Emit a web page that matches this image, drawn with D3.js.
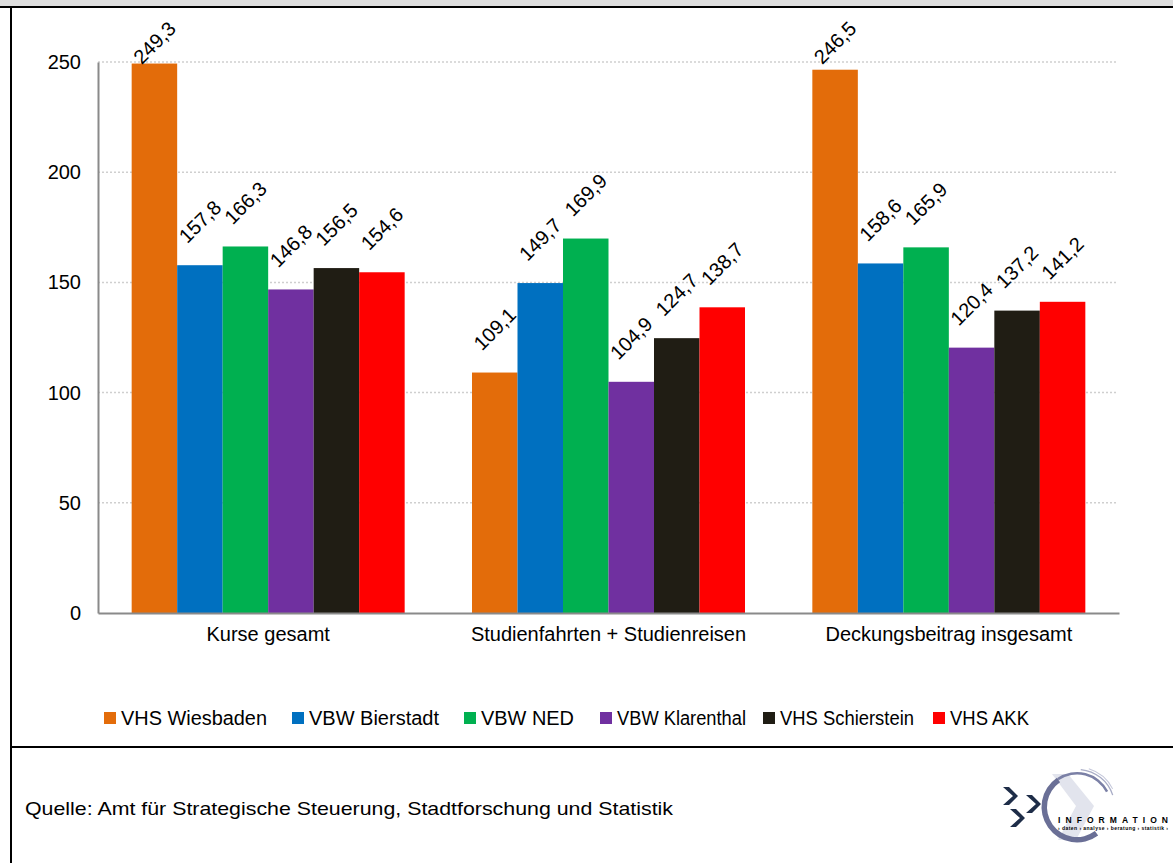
<!DOCTYPE html>
<html>
<head>
<meta charset="utf-8">
<script src="https://cdn.jsdelivr.net/npm/d3@7"></script>
<style>
  body { margin: 0; background: #fff; }
  text { font-family: "Liberation Sans", Arial, sans-serif; fill: #000; }
</style>
</head>
<body>
<div id="chart"></div>
<script>
const categories = ['Kurse gesamt', 'Studienfahrten + Studienreisen', 'Deckungsbeitrag insgesamt'];
const seriesNames = ['VHS Wiesbaden', 'VBW Bierstadt', 'VBW NED', 'VBW Klarenthal', 'VHS Schierstein', 'VHS AKK'];
const seriesColors = ['#E36C0A', '#0070C0', '#00B050', '#7030A0', '#201D14', '#FF0000'];
const wiesbaden = [249.3, 109.1, 246.5];
const bierstadt = [157.8, 149.7, 158.6];
const ned = [166.3, 169.9, 165.9];
const klarenthal = [146.8, 104.9, 120.4];
const schierstein = [156.5, 124.7, 137.2];
const akk = [154.6, 138.7, 141.2];
const yTicks = [0, 50, 100, 150, 200, 250];
const source = 'Quelle:  Amt für Strategische Steuerung, Stadtforschung und Statistik';

const values = [wiesbaden, bierstadt, ned, klarenthal, schierstein, akk];

const width = 1173, height = 863;
const plot = { left: 98, right: 1119, top: 62, bottom: 613 };

const svg = d3.select('#chart').append('svg')
  .attr('width', width)
  .attr('height', height);

// frame: grey band on top, black rules
svg.append('rect').attr('x', 0).attr('y', 0).attr('width', width).attr('height', 6).attr('fill', '#dedede');
svg.append('line').attr('x1', 0).attr('x2', width).attr('y1', 7).attr('y2', 7).attr('stroke', '#000').attr('stroke-width', 2);
svg.append('line').attr('x1', 11).attr('x2', 11).attr('y1', 7).attr('y2', height).attr('stroke', '#000').attr('stroke-width', 2);
svg.append('line').attr('x1', 11).attr('x2', width).attr('y1', 747).attr('y2', 747).attr('stroke', '#000').attr('stroke-width', 2);

const x = d3.scaleBand()
  .domain(categories)
  .range([plot.left, plot.right]);

const xSub = d3.scaleBand()
  .domain(seriesNames)
  .range([0, x.bandwidth()])
  .paddingOuter(0.74);

const y = d3.scaleLinear()
  .domain([0, 250])
  .range([plot.bottom, plot.top]);

// grid lines
svg.append('g')
  .selectAll('line')
  .data(yTicks.filter(d => d > 0))
  .join('line')
  .attr('x1', plot.left)
  .attr('x2', plot.right - 2)
  .attr('y1', d => y(d))
  .attr('y2', d => y(d))
  .attr('stroke', '#cfcfcf')
  .attr('stroke-width', 1.5)
  .attr('stroke-dasharray', '2,2');

// y axis
const yAxis = svg.append('g')
  .attr('transform', 'translate(' + plot.left + ',0)')
  .call(d3.axisLeft(y).tickValues(yTicks).tickSize(0).tickPadding(17));
yAxis.select('.domain').attr('stroke', '#8a8a8a').attr('stroke-width', 2);
yAxis.selectAll('text').style('font-size', '20px').attr('fill', '#000');

// bars
const groups = svg.append('g')
  .selectAll('g')
  .data(seriesNames)
  .join('g')
  .attr('fill', (d, i) => seriesColors[i]);

groups.selectAll('rect')
  .data((s, i) => categories.map((c, j) => ({ s: s, c: c, v: values[i][j] })))
  .join('rect')
  .attr('x', d => x(d.c) + xSub(d.s))
  .attr('width', xSub.bandwidth())
  .attr('y', d => y(d.v))
  .attr('height', d => y(0) - y(d.v));

// x axis
const xAxis = svg.append('g')
  .attr('transform', 'translate(0,' + plot.bottom + ')')
  .call(d3.axisBottom(x).tickSize(0).tickPadding(14));
xAxis.select('.domain').attr('stroke', '#8a8a8a').attr('stroke-width', 2);
xAxis.selectAll('text').style('font-size', '20px').attr('fill', '#000');

// value labels, rotated -45deg, kept inside the chart area
const fmt = v => d3.format('.1f')(v).replace('.', ',');
const labels = svg.append('g');
seriesNames.forEach((s, i) => {
  categories.forEach((c, j) => {
    const v = values[i][j];
    const t = labels.append('text')
      .attr('text-anchor', 'middle')
      .attr('dominant-baseline', 'central')
      .style('font-size', '20px')
      .text(fmt(v));
    const len = t.node().getComputedTextLength();
    const half = (len + 14) * 0.3536;
    const cx = x(c) + xSub(s) + xSub.bandwidth() / 2;
    let cy = y(v) - 21 - half;
    cy = Math.max(cy, 20 + half);
    t.attr('transform', 'translate(' + cx + ',' + cy + ') rotate(-45)');
  });
});

// legend
const legendX = [104, 292, 464, 600, 763, 933];
const legendW = [146, 130, 93, 129, 134, 79];
const legend = svg.append('g');
seriesNames.forEach((s, i) => {
  legend.append('rect')
    .attr('x', legendX[i]).attr('y', 712)
    .attr('width', 12).attr('height', 12)
    .attr('fill', seriesColors[i]);
  legend.append('text')
    .attr('x', legendX[i] + 17).attr('y', 725)
    .style('font-size', '20px')
    .attr('textLength', legendW[i])
    .attr('lengthAdjust', 'spacingAndGlyphs')
    .text(s);
});

// source
svg.append('text')
  .attr('x', 25).attr('y', 815)
  .style('font-size', '19px')
  .attr('textLength', 648)
  .attr('lengthAdjust', 'spacingAndGlyphs')
  .text(source);

// logo
const logo = svg.append('g');
const lc = [1077, 807];
logo.append('path')
  .attr('d', 'M1068,774 L1094,806 L1076,840 L1058,840 L1076,806 L1052,774 Z')
  .attr('fill', '#e2e4ed');
// ring, open on the right side
logo.append('path')
  .attr('d', d3.arc()({ innerRadius: 32.5, outerRadius: 35, startAngle: 1.1, endAngle: -0.6 }))
  .attr('transform', 'translate(' + lc + ')')
  .attr('fill', '#7b80a6');
logo.append('path')
  .attr('d', d3.arc()({ innerRadius: 30, outerRadius: 35.5, startAngle: -0.6, endAngle: -3.78 }))
  .attr('transform', 'translate(' + lc + ')')
  .attr('fill', '#6a6f96');
logo.append('path')
  .attr('d', d3.arc()({ innerRadius: 37, outerRadius: 38.3, startAngle: 0.1, endAngle: 1.25 }))
  .attr('transform', 'translate(' + lc + ')')
  .attr('fill', '#a8acc6');
logo.append('path')
  .attr('d', d3.arc()({ innerRadius: 39.5, outerRadius: 40.5, startAngle: 0.3, endAngle: 1.1 }))
  .attr('transform', 'translate(' + lc + ')')
  .attr('fill', '#c4c7da');
const chev = (cx, cy) => 'M' + (cx - 5) + ',' + (cy - 9) + ' L' + (cx + 5) + ',' + cy + ' L' + (cx - 5) + ',' + (cy + 9) +
  ' L' + (cx + 1) + ',' + (cy + 9) + ' L' + (cx + 10) + ',' + cy + ' L' + (cx + 1) + ',' + (cy - 9) + ' Z';
[[1008, 796], [1031, 804], [1015, 818]].forEach(p => {
  logo.append('path').attr('d', chev(p[0], p[1])).attr('fill', '#1e2d48');
});
logo.append('text')
  .attr('x', 1058).attr('y', 823)
  .style('font-size', '8.5px').style('font-weight', 'bold')
  .attr('textLength', 110)
  .attr('fill', '#2a3550')
  .text('INFORMATION');
logo.append('text')
  .attr('x', 1058).attr('y', 830)
  .style('font-size', '5px').style('font-weight', 'bold')
  .attr('fill', '#8a2232')
  .attr('textLength', 110)
  .text('› daten › analyse › beratung › statistik ›');
</script>
</body>
</html>
